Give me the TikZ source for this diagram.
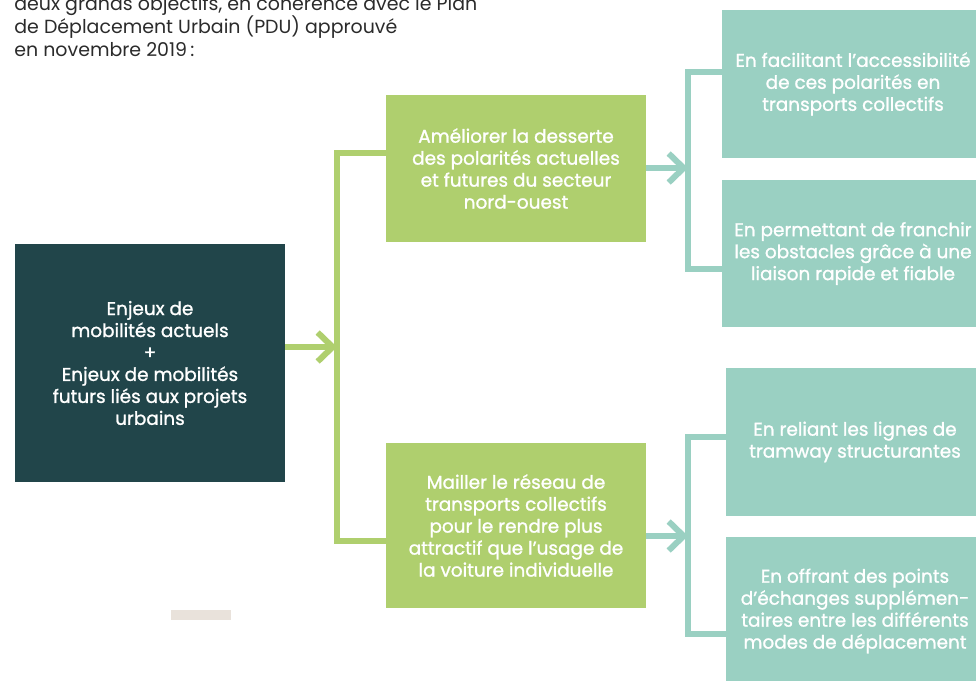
\documentclass[tikz,border=0pt]{standalone}
\usepackage{fontspec}
\setmainfont{Poppins}
\newfontfamily\blocfont[FakeBold=1.2]{Poppins}
\usetikzlibrary{arrows.meta}
\definecolor{enjeuxcol}{HTML}{21454A}
\definecolor{axecol}{HTML}{AFCF6E}
\definecolor{moyencol}{HTML}{9AD0C2}
\definecolor{introcol}{HTML}{2B2B2B}
\definecolor{tracecol}{HTML}{E9E2DB}
\newcommand{\boxtext}{\blocfont\fontsize{10.5}{12.5}\selectfont}
\tikzset{
  bloc/.style={text=white, align=center, inner sep=0pt, font=\boxtext},
  enjeux/.style={bloc, fill=enjeuxcol, minimum width=5.4cm, minimum height=4.76cm},
  axe/.style={bloc, fill=axecol, minimum width=5.2cm},
  moyen/.style={bloc, fill=moyencol, minimum height=2.96cm},
  intro/.style={anchor=base west, inner sep=0pt, text=introcol, font=\fontsize{10.8}{13}\selectfont},
  crochet/.style={line width=0.12cm},
  fleche/.style={line width=0.12cm, -{Straight Barb[length=0.3cm, width=0.58cm]}}
}
\begin{document}
\begin{tikzpicture}[x=0.02cm, y=-0.02cm]
\useasboundingbox (0,0) rectangle (976,680);
\clip (0,0) rectangle (976,680);

% texte d'introduction
\node[intro] (intro1) at (14,10) {deux grands objectifs, en cohérence avec le Plan};
\node[intro] (intro2) at (14,33) {de Déplacement Urbain (PDU) approuvé};
\node[intro] (intro3) at (14,56) {en novembre 2019\,:};

% blocs
\node[enjeux] (enjeux) at (150,363) {Enjeux de\\mobilités actuels\\+\\Enjeux de mobilités\\futurs liés aux projets\\urbains};
\node[axe, minimum height=2.94cm] (axe1) at (516,168.5) {Améliorer la desserte\\des polarités actuelles\\et futures du secteur\\nord-ouest};
\node[axe, minimum height=3.3cm] (axe2) at (516,525.5) {Mailler le réseau de\\transports collectifs\\pour le rendre plus\\attractif que l’usage de\\la voiture individuelle};
\node[moyen, minimum width=5.24cm] (moyen1) at (853,84) {En facilitant l’accessibilité\\de ces polarités en\\transports collectifs};
\node[moyen, minimum width=5.24cm] (moyen2) at (853,253.5) {En permettant de franchir\\les obstacles grâce à une\\liaison rapide et fiable};
\node[moyen, minimum width=5.16cm] (moyen3) at (855,442) {En reliant les lignes de\\tramway structurantes};
\node[moyen, minimum width=5.16cm] (moyen4) at (855,611) {En offrant des points\\d’échanges supplémen-\\taires entre les différents\\modes de déplacement};

\node[fill=tracecol, minimum width=1.2cm, minimum height=0.2cm, inner sep=0pt] (trace) at (201,615) {};

% crochet vert
\coordinate (vhaut) at (337,153);
\coordinate (vbas) at (337,541);
\coordinate (vmil) at (337,347);
\draw[crochet, axecol] (axe1.west |- vhaut) -- (vhaut) -- (vbas) -- (axe2.west |- vbas);
\draw[fleche, axecol] (enjeux.east |- vmil) -- (vmil);

% crochets turquoise
\coordinate (thaut1) at (688,72);
\coordinate (tbas1) at (688,269);
\coordinate (tmil1) at (688,168);
\draw[crochet, moyencol] (moyen1.west |- thaut1) -- (thaut1) -- (tbas1) -- (moyen2.west |- tbas1);
\draw[fleche, moyencol] (axe1.east |- tmil1) -- (tmil1);

\coordinate (thaut2) at (688,437);
\coordinate (tbas2) at (688,634);
\coordinate (tmil2) at (688,536);
\draw[crochet, moyencol] (moyen3.west |- thaut2) -- (thaut2) -- (tbas2) -- (moyen4.west |- tbas2);
\draw[fleche, moyencol] (axe2.east |- tmil2) -- (tmil2);
\end{tikzpicture}
\end{document}
